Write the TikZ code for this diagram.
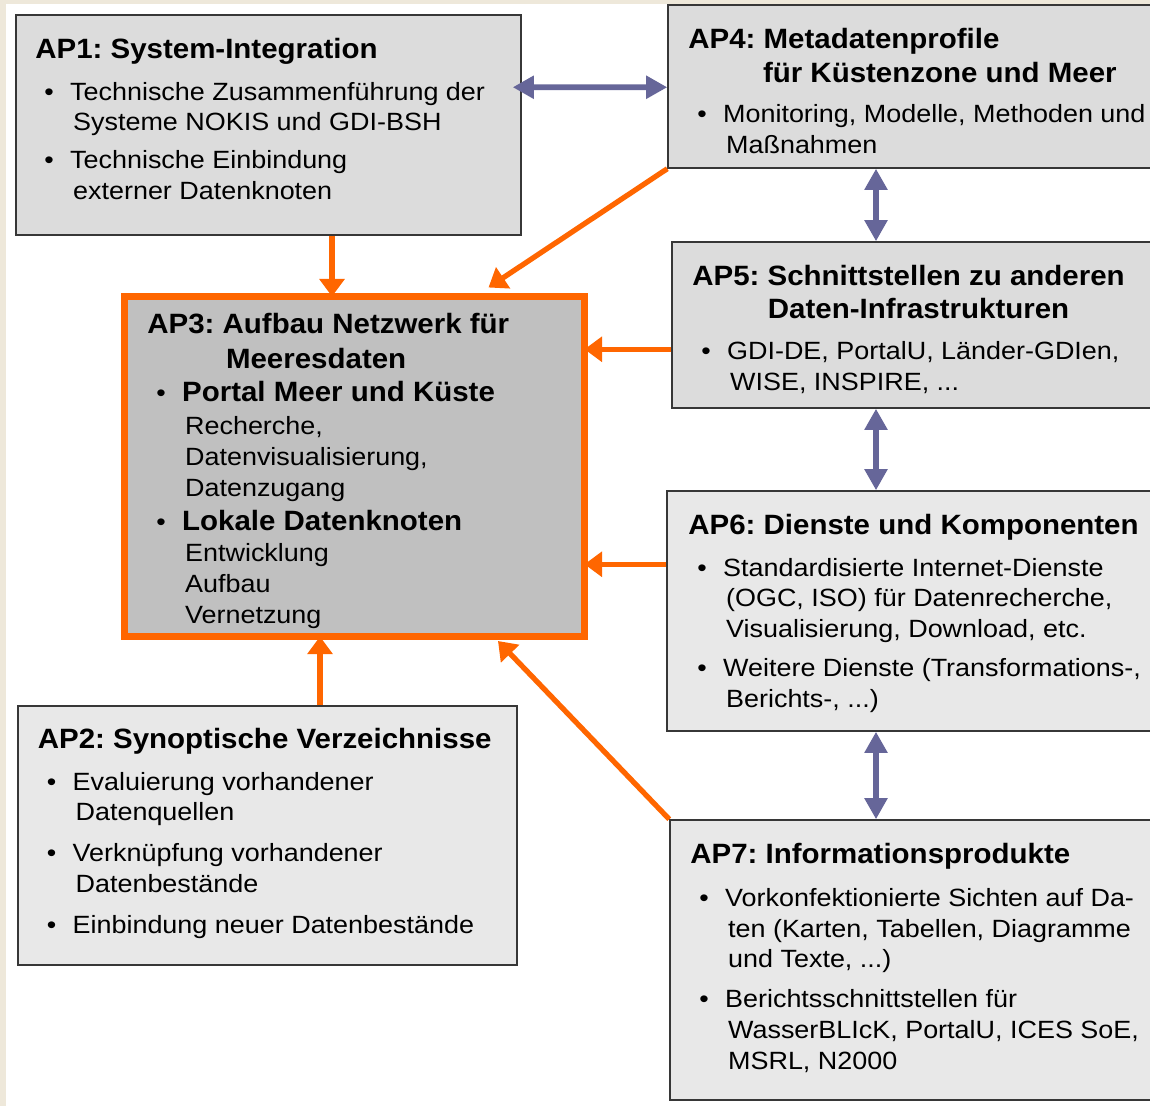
\documentclass[tikz,border=0pt]{standalone}
\usepackage{fontspec}
\setmainfont{Liberation Sans}[UprightFeatures={FakeStretch=1.08},
  BoldFeatures={FakeStretch=1.055}]
\usetikzlibrary{arrows.meta,calc,fit}

\definecolor{apgray}{RGB}{220,220,220}
\definecolor{aplight}{RGB}{232,232,232}
\definecolor{apdark}{RGB}{192,192,192}
\definecolor{aporange}{RGB}{255,102,0}
\definecolor{aplila}{RGB}{102,102,153}
\definecolor{apline}{RGB}{55,55,55}
\definecolor{paper}{RGB}{238,232,218}

\newcommand{\hdf}{\fontsize{15.9}{19.3}\selectfont\bfseries}
\newcommand{\itm}{\hspace*{5.1pt}\makebox[14.7pt][l]{\textbullet}}
\newcommand{\cnt}{\hspace*{21.5pt}}
\newcommand{\tp}{\rule{0pt}{12pt}}
\frenchspacing

\begin{document}
\begin{tikzpicture}[x=0.02cm,y=-0.02cm,
  box/.style={draw=apline,line width=0.85pt,inner sep=0pt},
  txt/.style={anchor=north west,inner sep=0pt,align=left,
    font=\fontsize{14.2}{17.6}\selectfont},
  lila/.style={aplila,line width=3.3pt,
    {Triangle[length=12pt,width=12.5pt]}-{Triangle[length=12pt,width=12.5pt]}},
  orng/.style={aporange,line width=3pt,-{Triangle[length=10pt,width=14pt]}}]

\useasboundingbox (0,0) rectangle (1150,1106);
\fill[white] (0,0) rectangle (1150,1106);
\fill[paper] (0,0) rectangle (6,1106);
\fill[paper] (0,0) rectangle (1150,4);

%boxes
\node[box,fill=apgray,fit={(16,15) (521,235)}] (ap1) {};
\node[box,fill=aplight,fit={(18,706) (517,965)}] (ap2) {};
\node[fill=apdark,inner sep=0pt,outer sep=0pt,fit={(124.5,296.5) (584.5,636.5)}] (ap3) {};
\node[box,fill=apgray,fit={(668,5) (1170,168)}] (ap4) {};
\node[box,fill=apgray,fit={(672,242) (1170,408)}] (ap5) {};
\node[box,fill=aplight,fit={(667,491) (1170,731)}] (ap6) {};
\node[box,fill=aplight,fit={(670,820) (1170,1100)}] (ap7) {};

%AP1
\node[txt] (t1) at (35,36.8) {\hdf\tp AP1: System-Integration\\[6.2pt]
  \itm Technische Zusammenführung der\\
  \cnt Systeme NOKIS und GDI-BSH\\[3.9pt]
  \itm Technische Einbindung\\
  \cnt externer Datenknoten};

%AP2
\node[txt] (t2) at (37.5,726.8) {\hdf\tp AP2: Synoptische Verzeichnisse\\[6.2pt]
  \itm Evaluierung vorhandener\\
  \cnt Datenquellen\\[5.6pt]
  \itm Verknüpfung vorhandener\\
  \cnt Datenbestände\\[5.6pt]
  \itm Einbindung neuer Datenbestände};

%AP3
\node[txt] (t3) at (147,311.8) {\hdf\tp AP3: Aufbau Netzwerk für\\[2.2pt]
  \hspace*{44.8pt}\hdf Meeresdaten\\[1.7pt]
  \itm\hdf Portal Meer und Küste\\[1.1pt]
  \cnt Recherche,\\
  \cnt Datenvisualisierung,\\
  \cnt Datenzugang\\[1.7pt]
  \itm\hdf Lokale Datenknoten\\
  \cnt Entwicklung\\
  \cnt Aufbau\\
  \cnt Vernetzung};
\draw[aporange,line width=3.97pt] (ap3.north west) rectangle (ap3.south east);

%AP4
\node[txt] (t4) at (688,26.8) {\hdf\tp AP4: Metadatenprofile\\[1.7pt]
  \hspace*{42.5pt}\hdf für Küstenzone und Meer\\[5.6pt]
  \itm Monitoring, Modelle, Methoden und\\
  \cnt Maßnahmen};

%AP5
\node[txt] (t5) at (692,263.8) {\hdf\tp AP5: Schnittstellen zu anderen\\[1.1pt]
  \hspace*{43pt}\hdf Daten-Infrastrukturen\\[6.2pt]
  \itm GDI-DE, PortalU, Länder-GDIen,\\
  \cnt WISE, INSPIRE, ...};

%AP6
\node[txt] (t6) at (688,512.8) {\hdf\tp AP6: Dienste und Komponenten\\[6.2pt]
  \itm Standardisierte Internet-Dienste\\
  \cnt (OGC, ISO) für Datenrecherche,\\
  \cnt Visualisierung, Download, etc.\\[4.5pt]
  \itm Weitere Dienste (Transformations-,\\
  \cnt Berichts-, ...)};

%AP7
\node[txt] (t7) at (690,841.8) {\hdf\tp AP7: Informationsprodukte\\[6.8pt]
  \itm Vorkonfektionierte Sichten auf Da-\\
  \cnt ten (Karten, Tabellen, Diagramme\\
  \cnt und Texte, ...)\\[5.1pt]
  \itm Berichtsschnittstellen für\\
  \cnt WasserBLIcK, PortalU, ICES SoE,\\
  \cnt MSRL, N2000};

%connectors
\coordinate (c1) at (332,0);
\coordinate (c2) at (320,0);
\coordinate (cr) at (876,0);

\draw[lila] ($(ap1.north east)+(-9,73)$) -- ($(ap4.north west)+(0,83)$);
\draw[lila] (ap4.south -| cr) -- (ap5.north -| cr);
\draw[lila] (ap5.south -| cr) -- (ap6.north -| cr);
\draw[lila] (ap6.south -| cr) -- (ap7.north -| cr);

\draw[orng] (ap1.south -| c1) -- (ap3.north -| c1);
\draw[orng] (ap4.south west) -- ($(ap3.north west)+(364,-9)$);
\draw[orng] ($(ap5.north west)+(0,108)$) coordinate (o5) -- (o5 -| ap3.east);
\draw[orng] ($(ap6.north west)+(0,74)$) coordinate (o6) -- (o6 -| ap3.east);
\draw[orng] (ap2.north -| c2) -- (ap3.south -| c2);
\draw[orng] (ap7.north west) -- ($(ap3.south west)+(373.5,4.5)$);

\end{tikzpicture}
\end{document}
